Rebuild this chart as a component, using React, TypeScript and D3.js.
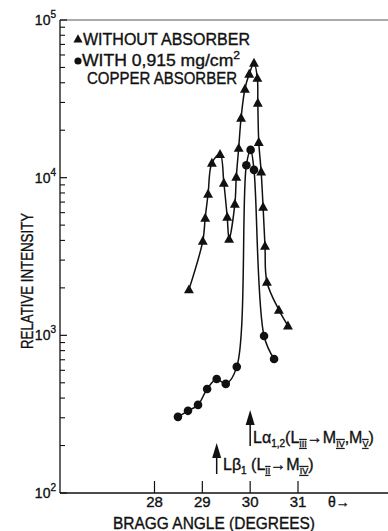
import React from "react";
import * as d3 from "d3";

// ---- data ----
const triAngle = [28.72, 29.01, 29.06, 29.12, 29.2, 29.37, 29.45, 29.52, 29.56, 29.68, 29.71, 29.76, 29.81, 29.89, 29.98, 30.08, 30.15, 30.16, 30.18, 30.23, 30.27, 30.31, 30.35, 30.6, 30.79];
const triValue = [1950, 3970, 5550, 7880, 12400, 14100, 9250, 5630, 4090, 6810, 10100, 15400, 23900, 36500, 45400, 53400, 42800, 29800, 16800, 10900, 6520, 3690, 2180, 1450, 1150];
const dotAngle = [28.49, 28.7, 28.91, 29.1, 29.3, 29.49, 29.72, 29.92, 30.01, 30.08, 30.29, 30.5];
const dotValue = [304, 332, 362, 457, 529, 492, 631, 12000, 15000, 11200, 991, 708];
const xTicks = [28, 29, 30, 31];
const yDecades = [2, 3, 4, 5];
const legendWithout = "WITHOUT ABSORBER";
const legendWith1 = "WITH 0,915 mg/cm";
const legendWith2 = "COPPER ABSORBER";
const yLabel = "RELATIVE INTENSITY";
const xLabel = "BRAGG ANGLE (DEGREES)";
const lineAlphaPos = 30.0;
const lineBetaPos = 29.3;

const W = 388;
const H = 531;
const FONT = "'Liberation Sans', Arial, Helvetica, sans-serif";
const INK = "#111";

export default function App() {
  const x = d3.scaleLinear().domain([28, 31]).range([154.5, 298]);
  const y = d3.scaleLog().domain([100, 100000]).range([493, 20]);
  const axisX0 = 60;
  const axisY0 = 493;

  const line = d3
    .line<[number, number]>()
    .x((d) => x(d[0]))
    .y((d) => y(d[1]))
    .curve(d3.curveCatmullRom.alpha(0.5));

  const tri: [number, number][] = triAngle.map((a, i) => [a, triValue[i]]);
  const dot: [number, number][] = dotAngle.map((a, i) => [a, dotValue[i]]);

  const triPath = (cx: number, cy: number, s = 5.2) =>
    `M${cx},${cy - s}L${cx + s * 0.95},${cy + s * 0.72}L${cx - s * 0.95},${cy + s * 0.72}Z`;

  const minor: number[] = [];
  for (let e = 2; e < 5; e++) {
    for (let m = 2; m <= 9; m++) minor.push(m * Math.pow(10, e));
  }

  const subStyle = { fontSize: 10 } as React.CSSProperties;
  const romanStyle = { fontSize: 9, textDecoration: "underline overline" } as React.CSSProperties;
  const textProps = { fill: INK, stroke: INK, strokeWidth: 0.35 };

  return (
    <svg
      width={W}
      height={H}
      style={{ position: "absolute", left: 0, top: 0, background: "#fff" }}
      fontFamily={FONT}
    >
      <rect width={W} height={H} fill="#fff" />
      {/* frame */}
      <line x1={axisX0} x2={W} y1={y(1e5)} y2={y(1e5)} stroke="#555" strokeWidth={1} />
      <line x1={axisX0} x2={axisX0} y1={y(1e5)} y2={axisY0} stroke={INK} strokeWidth={1.3} />
      <line x1={axisX0} x2={W} y1={axisY0} y2={axisY0} stroke={INK} strokeWidth={1.3} />

      {/* y ticks */}
      {yDecades.map((e) => (
        <g key={"d" + e}>
          <line x1={axisX0} x2={axisX0 + 7} y1={y(Math.pow(10, e))} y2={y(Math.pow(10, e))} stroke={INK} strokeWidth={1.2} />
          <text x={56} y={y(Math.pow(10, e)) + 5} textAnchor="end" fontSize={14} {...textProps}>
            10
            <tspan dy={-7} fontSize={10}>{e}</tspan>
          </text>
        </g>
      ))}
      {minor.map((v) => (
        <line key={"m" + v} x1={axisX0} x2={axisX0 + 5} y1={y(v)} y2={y(v)} stroke={INK} strokeWidth={1.1} />
      ))}

      {/* x ticks */}
      {xTicks.map((t) => (
        <g key={"x" + t}>
          <line x1={x(t)} x2={x(t)} y1={axisY0} y2={axisY0 - 12} stroke={INK} strokeWidth={1.2} />
          <text x={x(t)} y={507} textAnchor="middle" fontSize={15} {...textProps}>
            {t}
          </text>
        </g>
      ))}
      <text x={328} y={507} fontSize={14} {...textProps}>
        θ→
      </text>

      {/* axis labels */}
      <text x={214} y={529} textAnchor="middle" fontSize={16} textLength={202} lengthAdjust="spacingAndGlyphs" {...textProps}>
        {xLabel}
      </text>
      <text
        transform={`translate(33,281) rotate(-90)`}
        textAnchor="middle"
        fontSize={16.5}
        textLength={136}
        lengthAdjust="spacingAndGlyphs"
        {...textProps}
      >
        {yLabel}
      </text>

      {/* curves */}
      <path d={line(tri) || ""} fill="none" stroke={INK} strokeWidth={1.5} />
      <path d={line(dot) || ""} fill="none" stroke={INK} strokeWidth={1.5} />
      {tri.map((d, i) => (
        <path key={"t" + i} d={triPath(x(d[0]), y(d[1]))} fill={INK} />
      ))}
      {dot.map((d, i) => (
        <circle key={"c" + i} cx={x(d[0])} cy={y(d[1])} r={4.3} fill={INK} />
      ))}

      {/* legend */}
      <path d={triPath(78, 39, 4.8)} fill={INK} />
      <text x={83} y={45} fontSize={16} textLength={167} lengthAdjust="spacingAndGlyphs" {...textProps}>
        {legendWithout}
      </text>
      <circle cx={78} cy={61} r={3.6} fill={INK} />
      <text x={82} y={66} fontSize={16} textLength={158} lengthAdjust="spacingAndGlyphs" {...textProps}>
        {legendWith1}
        <tspan dy={-7} fontSize={11}>2</tspan>
      </text>
      <text x={87} y={84} fontSize={16} textLength={150} lengthAdjust="spacingAndGlyphs" {...textProps}>
        {legendWith2}
      </text>

      {/* annotations */}
      <g stroke={INK} fill={INK}>
        <line x1={x(lineAlphaPos)} x2={x(lineAlphaPos)} y1={418} y2={446} strokeWidth={1.5} />
        <path d={`M${x(lineAlphaPos)},${410}L${x(lineAlphaPos) + 4.5},${425}L${x(lineAlphaPos) - 4.5},${425}Z`} stroke="none" />
        <line x1={x(lineBetaPos)} x2={x(lineBetaPos)} y1={450} y2={474} strokeWidth={1.5} />
        <path d={`M${x(lineBetaPos)},${443}L${x(lineBetaPos) + 4.5},${458}L${x(lineBetaPos) - 4.5},${458}Z`} stroke="none" />
      </g>
      <text x={253} y={443} fontSize={16} {...textProps}>
        Lα<tspan dy={4} style={subStyle}>1,2</tspan>
        <tspan dy={-4}>(L</tspan>
        <tspan dy={4} style={romanStyle}>III</tspan>
        <tspan dy={-4}>→M</tspan>
        <tspan dy={4} style={romanStyle}>IV</tspan>
        <tspan dy={-4}>,M</tspan>
        <tspan dy={4} style={romanStyle}>V</tspan>
        <tspan dy={-4}>)</tspan>
      </text>
      <text x={223} y={470} fontSize={16} {...textProps}>
        Lβ<tspan dy={4} style={subStyle}>1</tspan>
        <tspan dy={-4}> (L</tspan>
        <tspan dy={4} style={romanStyle}>II</tspan>
        <tspan dy={-4}>→M</tspan>
        <tspan dy={4} style={romanStyle}>IV</tspan>
        <tspan dy={-4}>)</tspan>
      </text>
    </svg>
  );
}
